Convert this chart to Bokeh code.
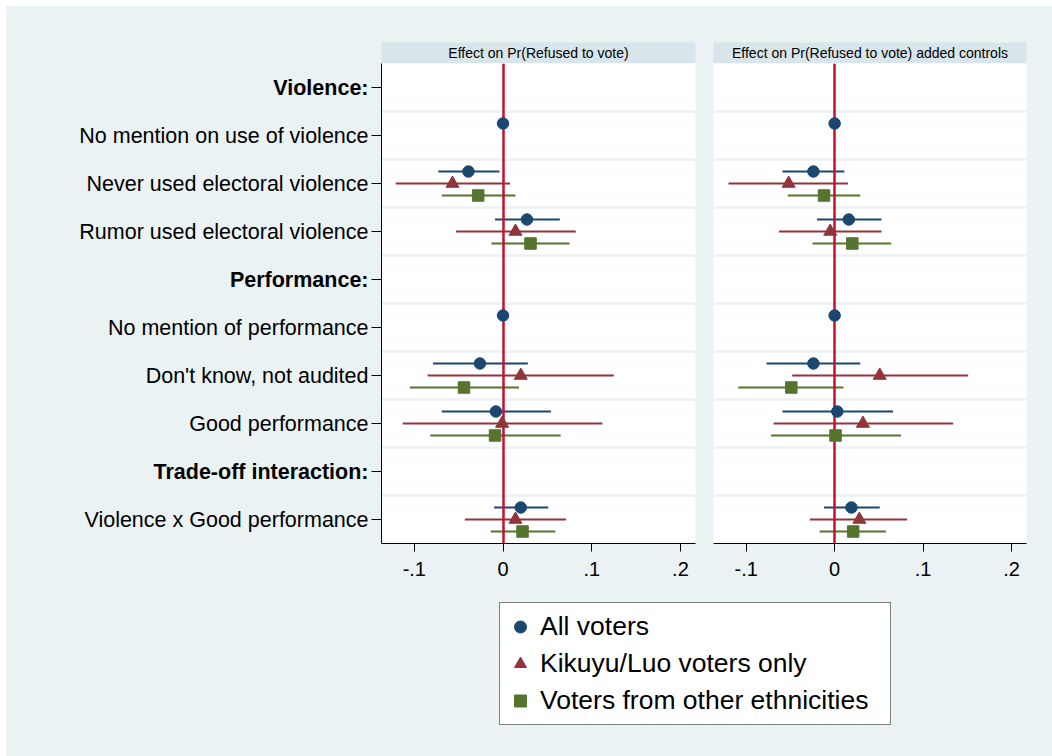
import math
from bokeh.plotting import figure
from bokeh.models import (Range1d, FixedTicker, Grid, Label, ColumnDataSource,
                          Legend, LegendItem)
from bokeh.layouts import column, row
from bokeh.transform import dodge
from bokeh.embed import file_html
from bokeh.resources import INLINE
from bokeh.core.properties import value

nan = float("nan")

# ---------------- data ----------------
rows = ["Violence:", "No mention on use of violence", "Never used electoral violence",
        "Rumor used electoral violence", "Performance:", "No mention of performance",
        "Don't know, not audited", "Good performance", "Trade-off interaction:",
        "Violence x Good performance"]
headers = ["Violence:", "Performance:", "Trade-off interaction:"]
coef_rows = ["No mention on use of violence", "Never used electoral violence",
             "Rumor used electoral violence", "No mention of performance",
             "Don't know, not audited", "Good performance", "Violence x Good performance"]

panel_titles = ["Effect on Pr(Refused to vote)",
                "Effect on Pr(Refused to vote) added controls"]
series_names = ["All voters", "Kikuyu/Luo voters only", "Voters from other ethnicities"]

x_ticks = [-0.1, 0, 0.1, 0.2]
x_tick_labels = ["-.1", "0", ".1", ".2"]

# Panel 1: Effect on Pr(Refused to vote)
p1_all_b = [0, -0.039, 0.027, 0, -0.026, -0.008, 0.020]
p1_all_lo = [nan, -0.073, -0.009, nan, -0.079, -0.069, -0.010]
p1_all_hi = [nan, -0.004, 0.064, nan, 0.028, 0.054, 0.051]
p1_kl_b = [nan, -0.057, 0.014, nan, 0.020, -0.001, 0.014]
p1_kl_lo = [nan, -0.121, -0.053, nan, -0.085, -0.113, -0.043]
p1_kl_hi = [nan, 0.008, 0.082, nan, 0.125, 0.112, 0.071]
p1_ot_b = [nan, -0.028, 0.031, nan, -0.044, -0.009, 0.022]
p1_ot_lo = [nan, -0.069, -0.013, nan, -0.105, -0.082, -0.014]
p1_ot_hi = [nan, 0.014, 0.075, nan, 0.018, 0.065, 0.059]

# Panel 2: added controls
p2_all_b = [0, -0.024, 0.016, 0, -0.024, 0.003, 0.019]
p2_all_lo = [nan, -0.059, -0.020, nan, -0.077, -0.059, -0.012]
p2_all_hi = [nan, 0.011, 0.053, nan, 0.029, 0.066, 0.051]
p2_kl_b = [nan, -0.052, -0.005, nan, 0.051, 0.032, 0.028]
p2_kl_lo = [nan, -0.120, -0.063, nan, -0.048, -0.069, -0.028]
p2_kl_hi = [nan, 0.015, 0.053, nan, 0.151, 0.134, 0.082]
p2_ot_b = [nan, -0.012, 0.020, nan, -0.049, 0.001, 0.021]
p2_ot_lo = [nan, -0.053, -0.025, nan, -0.109, -0.072, -0.017]
p2_ot_hi = [nan, 0.029, 0.064, nan, 0.010, 0.075, 0.058]

panels = [
    [(p1_all_b, p1_all_lo, p1_all_hi), (p1_kl_b, p1_kl_lo, p1_kl_hi), (p1_ot_b, p1_ot_lo, p1_ot_hi)],
    [(p2_all_b, p2_all_lo, p2_all_hi), (p2_kl_b, p2_kl_lo, p2_kl_hi), (p2_ot_b, p2_ot_lo, p2_ot_hi)],
]

# ---------------- style ----------------
BG = "#EAF2F3"
STRIP = "#D8E5EA"
REDLINE = "#C8102E"
COLORS = ["#1A476F", "#90353B", "#55752F"]
MARKERS = ["circle", "triangle", "square"]
SIZES = [11.5, 13, 11.5]
OFFSETS = [-0.25, 0.0, 0.25]
FONT = "Liberation Sans"

W_LAB, W1, W2 = 362, 337, 347
HEAD_H, MAIN_H, LEG_H = 57, 532, 161

coef_y = [rows.index(r) + 1 for r in coef_rows]
n_rows = len(rows)
y_range = Range1d(n_rows + 0.5, 0.5)


def header_fig(width, left, right, title):
    h = figure(width=width, height=HEAD_H, output_backend="svg", toolbar_location=None,
               x_range=Range1d(0, 1), y_range=Range1d(0, 1),
               x_axis_location=None, y_axis_location=None,
               min_border_left=left, min_border_right=right,
               min_border_top=36, min_border_bottom=0)
    h.grid.visible = False
    h.background_fill_color = STRIP
    h.border_fill_color = BG
    h.outline_line_color = None
    h.add_layout(Label(x=0.5, y=0.5, text=title, text_align="center",
                       text_baseline="middle", text_font=FONT,
                       text_font_size="14px", text_color="black"))
    return h


def main_fig(width, left, right, with_y, data):
    p = figure(width=width, height=MAIN_H, output_backend="svg", toolbar_location=None,
               x_range=Range1d(-0.137, 0.217), y_range=y_range,
               y_axis_location="left" if with_y else None,
               min_border_left=left, min_border_right=right,
               min_border_top=0, min_border_bottom=52)
    p.background_fill_color = "white"
    p.border_fill_color = BG
    p.outline_line_color = None
    p.grid.visible = False
    p.add_layout(Grid(dimension=1,
                      ticker=FixedTicker(ticks=[i + 0.5 for i in range(1, n_rows)]),
                      grid_line_color=BG, grid_line_width=2.5))

    xa = p.xaxis[0]
    xa.ticker = FixedTicker(ticks=x_ticks)
    xa.major_label_overrides = {t: l for t, l in zip(x_ticks, x_tick_labels)}
    xa.major_tick_out = 8
    xa.major_tick_in = 0
    xa.minor_tick_line_color = None
    xa.axis_line_color = "black"
    xa.major_tick_line_color = "black"
    xa.major_label_text_font = FONT
    xa.major_label_text_font_size = "20px"
    xa.major_label_text_color = "black"
    xa.major_label_standoff = 10

    if with_y:
        ya = p.yaxis[0]
        ya.ticker = FixedTicker(ticks=list(range(1, n_rows + 1)))
        ya.major_label_overrides = {i + 1: "" for i in range(n_rows)}
        ya.major_tick_out = 10
        ya.major_tick_in = 0
        ya.minor_tick_line_color = None
        ya.axis_line_color = "black"
        ya.major_tick_line_color = "black"
        ya.major_label_standoff = 0

    srcs = [ColumnDataSource(dict(y=coef_y, b=b, lo=lo, hi=hi)) for (b, lo, hi) in data]
    for k, src in enumerate(srcs):
        p.segment(x0="lo", x1="hi", y0=dodge("y", OFFSETS[k]), y1=dodge("y", OFFSETS[k]),
                  source=src, line_color=COLORS[k], line_width=2)
    p.vspan(x=[0], line_color=REDLINE, line_width=2.5)
    for k, src in enumerate(srcs):
        p.scatter(x="b", y=dodge("y", OFFSETS[k]), source=src, marker=MARKERS[k],
                  size=SIZES[k], fill_color=COLORS[k], line_color=COLORS[k])
    return p


# ---- category label column (shares the y range with the panels) ----
lab = figure(width=W_LAB, height=MAIN_H, output_backend="svg", toolbar_location=None,
             x_range=Range1d(0, 1), y_range=y_range,
             x_axis_location=None, y_axis_location=None,
             min_border_left=0, min_border_right=0, min_border_top=0, min_border_bottom=52)
lab.grid.visible = False
lab.background_fill_color = BG
lab.border_fill_color = BG
lab.outline_line_color = None
lab_src = ColumnDataSource(dict(
    y=[i + 1 for i in range(n_rows)],
    text=rows,
    style=["bold" if r in headers else "normal" for r in rows],
))
lab.text(x=1, y="y", text="text", source=lab_src, text_align="right",
         text_baseline="middle", text_font=value(FONT), text_font_size="21.5px",
         text_font_style="style", text_color="black")

h1 = header_fig(W_LAB + W1, W_LAB + 13, 10, panel_titles[0])
h2 = header_fig(W2, 8, 26, panel_titles[1])
p1 = main_fig(W1, 13, 10, True, panels[0])
p2 = main_fig(W2, 8, 26, False, panels[1])

# ---- legend ----
lf = figure(width=W_LAB + W1 + W2, height=LEG_H, output_backend="svg", toolbar_location=None,
            x_range=Range1d(0, 1), y_range=Range1d(0, 1),
            x_axis_location=None, y_axis_location=None, min_border=0)
lf.grid.visible = False
lf.background_fill_color = BG
lf.border_fill_color = BG
lf.outline_line_color = None
items = []
for k, name in enumerate(series_names):
    r = lf.scatter(x=[nan], y=[nan], marker=MARKERS[k], fill_color=COLORS[k],
                   line_color=COLORS[k])
    items.append(LegendItem(label=name, renderers=[r]))
legend = Legend(items=items, location=(493, 31), orientation="vertical",
                padding=5, spacing=0, margin=0, glyph_width=30, glyph_height=37,
                label_standoff=5, label_width=345,
                label_text_font=FONT, label_text_font_size="26.5px", label_text_color="black",
                border_line_color="black", border_line_width=1,
                background_fill_color="white", background_fill_alpha=1)
lf.add_layout(legend, "center")

layout = column(row(h1, h2, spacing=0), row(lab, p1, p2, spacing=0), lf, spacing=0,
                margin=(6, 0, 0, 6), styles={"background-color": BG})

open("out.html", "w").write(file_html(layout, INLINE))
